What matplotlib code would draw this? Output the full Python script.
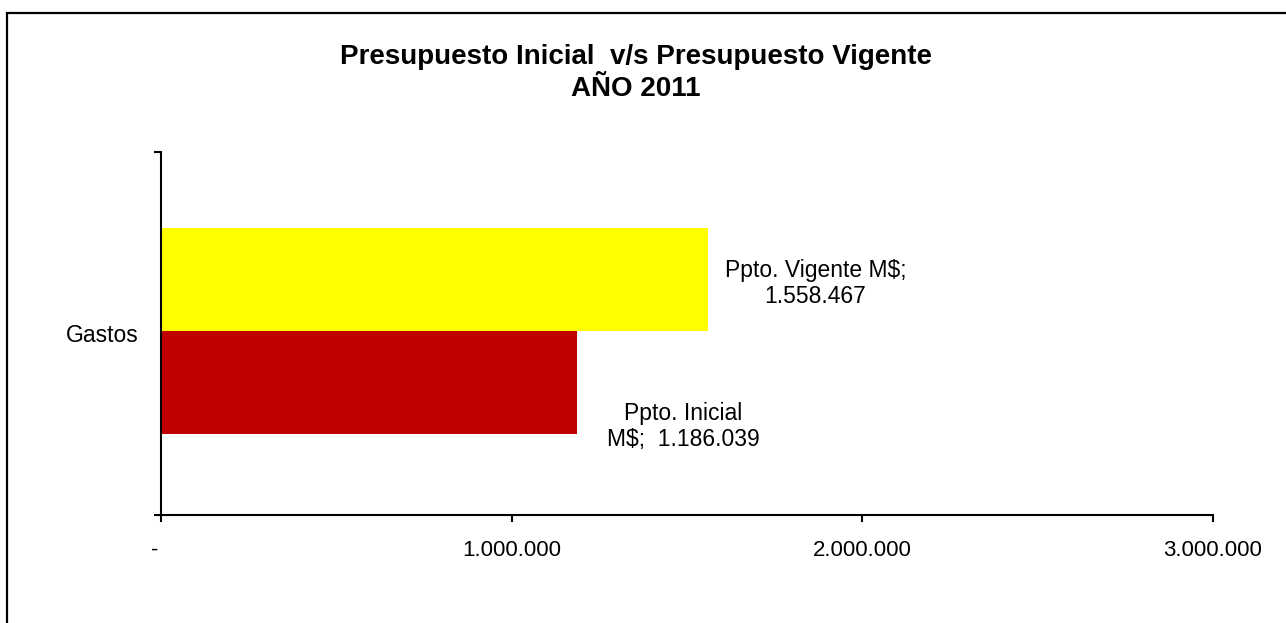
import matplotlib.pyplot as plt
from matplotlib.patches import Rectangle
from matplotlib.ticker import FuncFormatter

plt.rcParams['font.family'] = ['Liberation Sans', 'DejaVu Sans']

# datos del gráfico
categoria = ["Gastos"]
series = ["Ppto. Vigente M$", "Ppto. Inicial M$"]
valores = [1558467, 1186039]
colores = ["#FFFF00", "#C00000"]
etiquetas = ["Ppto. Vigente M$;\n1.558.467", "Ppto. Inicial\nM$;  1.186.039"]
ticks_x = [0, 1000000, 2000000, 3000000]


def formato_miles(v, pos):
    if v == 0:
        return "-  "
    return f"{int(v):,}".replace(",", ".")


fig = plt.figure(figsize=(12.86, 6.23), dpi=100)
ax = fig.add_axes([161 / 1286, 1 - 515 / 623, (1213 - 161) / 1286, (515 - 152) / 623])

# marco del gráfico (recortado por el borde de la imagen)
fig.patches.append(Rectangle((7 / 1286, -0.1), 1.2, 1 - 13 / 623 + 0.1,
                             transform=fig.transFigure, fill=False,
                             edgecolor="black", linewidth=1.6))

alto = 0.284
posiciones = [0.149, -0.135]
offsets = [(108, -4), (106, -44)]
for nombre, val, col, pos, etq, off in zip(series, valores, colores, posiciones, etiquetas, offsets):
    ax.barh(pos, val, height=alto, color=col, label=nombre)
    ax.annotate(etq, xy=(val, pos), xytext=off, textcoords="offset pixels",
                ha="center", va="center", fontsize=16.5, linespacing=1.2)

ax.set_xlim(0, 3000000)
ax.set_ylim(-0.5, 0.5)
ax.set_xticks(ticks_x)
ax.xaxis.set_major_formatter(FuncFormatter(formato_miles))
ax.set_yticks([0])
ax.set_yticklabels(categoria)
ax.set_yticks([-0.5, 0.5], minor=True)

for lado in ["top", "right"]:
    ax.spines[lado].set_visible(False)
for lado in ["left", "bottom"]:
    ax.spines[lado].set_linewidth(1.5)

ax.tick_params(axis="x", direction="out", length=5, width=1.5, pad=13, labelsize=16)
ax.tick_params(axis="y", which="major", length=0, pad=16, labelsize=16.5)
ax.tick_params(axis="y", which="minor", direction="out", length=5, width=1.5)

fig.text(636 / 1286, 1 - 73 / 623, "Presupuesto Inicial  v/s Presupuesto Vigente\nAÑO 2011",
         ha="center", va="center", fontsize=20, fontweight="bold", linespacing=1.35)

fig.savefig("out.png", dpi=100)
